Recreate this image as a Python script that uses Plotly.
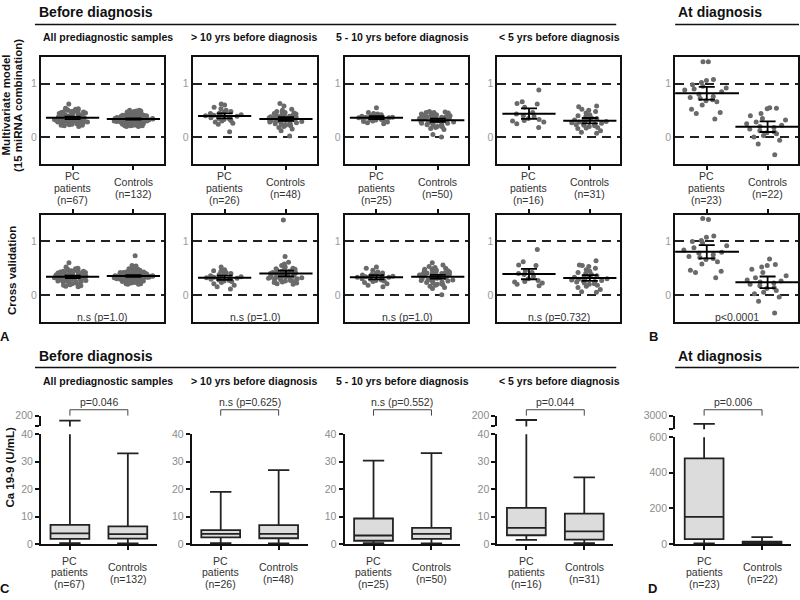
import math
import plotly.graph_objects as go

# ---------------- data ----------------
panel_titles = ["All prediagnostic samples", "> 10 yrs before diagnosis",
                "5 - 10 yrs before diagnosis", "< 5 yrs before diagnosis"]
n_pc = [67, 26, 25, 16, 23]
n_ct = [132, 48, 50, 31, 22]
pvals_cv = ["n.s (p=1.0)", "n.s (p=1.0)", "n.s (p=1.0)", "n.s (p=0.732)", "p<0.0001"]
pvals_ca = ["p=0.046", "n.s (p=0.625)", "n.s (p=0.552)", "p=0.044", "p=0.006"]

# Multivariate model (15 miRNA combination)
mv_all_pc = [0.62, 0.54, 0.53, 0.52, 0.51, 0.50, 0.50, 0.49, 0.48, 0.47,
             0.47, 0.46, 0.45, 0.45, 0.44, 0.44, 0.43, 0.42, 0.42, 0.41,
             0.40, 0.40, 0.39, 0.39, 0.38, 0.38, 0.37, 0.37, 0.36, 0.36,
             0.36, 0.35, 0.35, 0.35, 0.34, 0.34, 0.34, 0.33, 0.33, 0.33,
             0.32, 0.32, 0.32, 0.31, 0.31, 0.31, 0.30, 0.30, 0.30, 0.29,
             0.29, 0.28, 0.28, 0.28, 0.27, 0.27, 0.26, 0.26, 0.25, 0.25,
             0.24, 0.24, 0.23, 0.22, 0.22, 0.21, 0.20]
mv_all_ct = [0.50, 0.50, 0.49, 0.49, 0.48, 0.48, 0.47, 0.47, 0.46, 0.46,
             0.45, 0.45, 0.45, 0.44, 0.44, 0.44, 0.43, 0.43, 0.43, 0.42,
             0.42, 0.42, 0.41, 0.41, 0.41, 0.40, 0.40, 0.40, 0.39, 0.39,
             0.39, 0.39, 0.38, 0.38, 0.38, 0.38, 0.37, 0.37, 0.37, 0.37,
             0.36, 0.36, 0.36, 0.36, 0.36, 0.35, 0.35, 0.35, 0.35, 0.35,
             0.34, 0.34, 0.34, 0.34, 0.34, 0.34, 0.33, 0.33, 0.33, 0.33,
             0.33, 0.33, 0.32, 0.32, 0.32, 0.32, 0.32, 0.32, 0.31, 0.31,
             0.31, 0.31, 0.31, 0.31, 0.30, 0.30, 0.30, 0.30, 0.30, 0.30,
             0.29, 0.29, 0.29, 0.29, 0.29, 0.28, 0.28, 0.28, 0.28, 0.28,
             0.27, 0.27, 0.27, 0.27, 0.26, 0.26, 0.26, 0.26, 0.25, 0.25,
             0.25, 0.25, 0.24, 0.24, 0.24, 0.23, 0.23, 0.23, 0.22, 0.22,
             0.22, 0.21, 0.21, 0.21, 0.20, 0.20, 0.35, 0.36, 0.34, 0.33,
             0.37, 0.32, 0.38, 0.31, 0.35, 0.34, 0.36, 0.33, 0.39, 0.30,
             0.40, 0.29]
mv_10_pc = [0.62, 0.60, 0.56, 0.53, 0.50, 0.48, 0.47, 0.45, 0.44, 0.43,
            0.42, 0.41, 0.40, 0.39, 0.38, 0.37, 0.36, 0.35, 0.34, 0.33,
            0.31, 0.30, 0.28, 0.26, 0.24, 0.10]
mv_10_ct = [0.63, 0.58, 0.52, 0.50, 0.48, 0.47, 0.46, 0.45, 0.44, 0.43,
            0.42, 0.41, 0.40, 0.40, 0.39, 0.38, 0.38, 0.37, 0.36, 0.36,
            0.35, 0.35, 0.34, 0.34, 0.33, 0.33, 0.32, 0.32, 0.31, 0.31,
            0.30, 0.30, 0.29, 0.29, 0.28, 0.27, 0.27, 0.26, 0.25, 0.24,
            0.23, 0.22, 0.21, 0.20, 0.18, 0.15, 0.12, 0.02]
mv_510_pc = [0.55, 0.46, 0.44, 0.43, 0.42, 0.41, 0.40, 0.39, 0.38, 0.37,
             0.37, 0.36, 0.36, 0.35, 0.35, 0.34, 0.33, 0.33, 0.32, 0.31,
             0.30, 0.29, 0.28, 0.27, 0.25]
mv_510_ct = [0.48, 0.47, 0.46, 0.46, 0.45, 0.44, 0.43, 0.42, 0.42, 0.41,
             0.40, 0.40, 0.39, 0.38, 0.38, 0.37, 0.37, 0.36, 0.36, 0.35,
             0.35, 0.34, 0.34, 0.33, 0.33, 0.32, 0.32, 0.31, 0.31, 0.30,
             0.30, 0.29, 0.29, 0.28, 0.28, 0.27, 0.26, 0.26, 0.25, 0.24,
             0.23, 0.22, 0.21, 0.20, 0.19, 0.18, 0.16, 0.14, 0.05, 0.00]
mv_5_pc = [0.88, 0.66, 0.63, 0.62, 0.56, 0.46, 0.43, 0.40, 0.38, 0.35,
           0.33, 0.31, 0.30, 0.28, 0.25, 0.18]
mv_5_ct = [0.58, 0.57, 0.52, 0.50, 0.48, 0.45, 0.42, 0.40, 0.38, 0.36,
           0.35, 0.34, 0.33, 0.32, 0.30, 0.29, 0.28, 0.27, 0.26, 0.25,
           0.24, 0.23, 0.22, 0.21, 0.20, 0.18, 0.17, 0.16, 0.12, 0.09, 0.07]
mv_at_pc = [1.41, 1.41, 1.08, 1.06, 1.02, 0.98, 0.95, 0.92, 0.90, 0.88,
            0.85, 0.80, 0.76, 0.74, 0.72, 0.70, 0.68, 0.66, 0.60, 0.52,
            0.46, 0.44, 0.34]
mv_at_ct = [0.55, 0.54, 0.53, 0.44, 0.40, 0.35, 0.32, 0.28, 0.25, 0.22,
            0.20, 0.18, 0.15, 0.12, 0.10, 0.08, 0.06, 0.03, 0.00, -0.06,
            -0.13, -0.33]

# Cross validation
cv_all_pc = [0.60, 0.52, 0.50, 0.49, 0.48, 0.47, 0.46, 0.45, 0.45, 0.44,
             0.44, 0.43, 0.42, 0.42, 0.41, 0.41, 0.40, 0.40, 0.39, 0.39,
             0.38, 0.38, 0.37, 0.37, 0.37, 0.36, 0.36, 0.36, 0.35, 0.35,
             0.35, 0.34, 0.34, 0.34, 0.33, 0.33, 0.33, 0.32, 0.32, 0.32,
             0.31, 0.31, 0.31, 0.30, 0.30, 0.30, 0.29, 0.29, 0.28, 0.28,
             0.27, 0.27, 0.26, 0.26, 0.25, 0.25, 0.24, 0.24, 0.23, 0.22,
             0.21, 0.20, 0.19, 0.18, 0.17, 0.16, 0.15]
cv_all_ct = [0.73, 0.55, 0.54, 0.53, 0.52, 0.51, 0.50, 0.49, 0.48, 0.48,
             0.47, 0.47, 0.46, 0.46, 0.45, 0.45, 0.44, 0.44, 0.44, 0.43,
             0.43, 0.43, 0.42, 0.42, 0.42, 0.41, 0.41, 0.41, 0.40, 0.40,
             0.40, 0.39, 0.39, 0.39, 0.38, 0.38, 0.38, 0.38, 0.37, 0.37,
             0.37, 0.37, 0.36, 0.36, 0.36, 0.36, 0.35, 0.35, 0.35, 0.35,
             0.35, 0.34, 0.34, 0.34, 0.34, 0.34, 0.33, 0.33, 0.33, 0.33,
             0.33, 0.32, 0.32, 0.32, 0.32, 0.32, 0.31, 0.31, 0.31, 0.31,
             0.31, 0.30, 0.30, 0.30, 0.30, 0.30, 0.29, 0.29, 0.29, 0.29,
             0.28, 0.28, 0.28, 0.28, 0.27, 0.27, 0.27, 0.27, 0.26, 0.26,
             0.26, 0.25, 0.25, 0.25, 0.24, 0.24, 0.24, 0.23, 0.23, 0.22,
             0.22, 0.21, 0.21, 0.20, 0.20, 0.36, 0.37, 0.35, 0.34, 0.33,
             0.38, 0.32, 0.39, 0.31, 0.40, 0.36, 0.35, 0.34, 0.37, 0.33,
             0.41, 0.30, 0.42, 0.29, 0.36, 0.35, 0.38, 0.34, 0.43, 0.28,
             0.39, 0.32]
cv_10_pc = [0.52, 0.47, 0.45, 0.44, 0.42, 0.40, 0.39, 0.38, 0.36, 0.35,
            0.34, 0.33, 0.32, 0.31, 0.30, 0.30, 0.29, 0.28, 0.27, 0.26,
            0.25, 0.23, 0.21, 0.18, 0.15, 0.11]
cv_10_ct = [1.40, 0.72, 0.61, 0.58, 0.55, 0.53, 0.52, 0.50, 0.49, 0.48,
            0.47, 0.46, 0.45, 0.44, 0.44, 0.43, 0.42, 0.41, 0.40, 0.40,
            0.39, 0.38, 0.38, 0.37, 0.36, 0.36, 0.35, 0.35, 0.34, 0.34,
            0.33, 0.33, 0.32, 0.32, 0.31, 0.30, 0.30, 0.29, 0.28, 0.28,
            0.27, 0.26, 0.25, 0.24, 0.23, 0.22, 0.21, 0.20]
cv_510_pc = [0.52, 0.50, 0.46, 0.43, 0.41, 0.40, 0.38, 0.37, 0.36, 0.35,
             0.34, 0.33, 0.33, 0.32, 0.31, 0.30, 0.29, 0.28, 0.27, 0.26,
             0.25, 0.23, 0.21, 0.18, 0.15]
cv_510_ct = [0.60, 0.56, 0.53, 0.51, 0.50, 0.49, 0.48, 0.47, 0.46, 0.45,
             0.44, 0.43, 0.42, 0.42, 0.41, 0.40, 0.40, 0.39, 0.38, 0.38,
             0.37, 0.36, 0.36, 0.35, 0.35, 0.34, 0.34, 0.33, 0.32, 0.32,
             0.31, 0.30, 0.30, 0.29, 0.28, 0.28, 0.27, 0.26, 0.25, 0.24,
             0.23, 0.22, 0.21, 0.20, 0.19, 0.18, 0.16, 0.14, 0.12, 0.00]
cv_5_pc = [0.85, 0.62, 0.56, 0.55, 0.45, 0.42, 0.40, 0.38, 0.35, 0.30,
           0.27, 0.25, 0.24, 0.22, 0.20, 0.17]
cv_5_ct = [0.64, 0.56, 0.55, 0.53, 0.50, 0.47, 0.44, 0.42, 0.40, 0.38,
           0.36, 0.35, 0.34, 0.33, 0.31, 0.30, 0.29, 0.28, 0.27, 0.26,
           0.25, 0.24, 0.22, 0.21, 0.20, 0.18, 0.16, 0.14, 0.10, 0.06, 0.05]
cv_at_pc = [1.43, 1.41, 1.10, 1.08, 1.02, 1.00, 0.97, 0.92, 0.88, 0.84,
            0.80, 0.78, 0.75, 0.72, 0.70, 0.68, 0.66, 0.62, 0.58, 0.46,
            0.44, 0.42, 0.32]
cv_at_ct = [0.67, 0.57, 0.55, 0.52, 0.48, 0.42, 0.36, 0.32, 0.28, 0.26,
            0.24, 0.22, 0.20, 0.17, 0.14, 0.12, 0.08, 0.05, 0.02, -0.04,
            -0.12, -0.34]

# Ca 19-9 (U/mL) box statistics: all, >10, 5-10, <5, at diagnosis
ca_pc_low = [0.3, 0.3, 0.3, 1.5, 4]
ca_pc_q1 = [1.9, 2.4, 1.2, 3.2, 28]
ca_pc_med = [3.9, 3.7, 3.1, 5.9, 152]
ca_pc_q3 = [7.0, 5.1, 9.3, 13.2, 481]
ca_pc_high = [127, 19.0, 30.4, 135, 1800]
ca_ct_low = [0.2, 0.2, 0.2, 0.3, 0]
ca_ct_q1 = [2.0, 2.1, 1.9, 1.6, 2]
ca_ct_med = [3.6, 3.7, 3.7, 4.6, 7]
ca_ct_q3 = [6.4, 6.9, 5.9, 11.1, 14]
ca_ct_high = [33.0, 26.9, 33.1, 24.3, 39]
ca_low_ticks = [0, 10, 20, 30, 40]
ca_low_ticks_d = [0, 200, 400, 600]
ca_break = [40, 1000]      # lower end of the upper (broken) axis segment
ca_top = [200, 3000]

# ---------------- layout helpers ----------------
W, H = 800, 600
FONT = "Liberation Sans, Arial, Helvetica, sans-serif"
LINE = "#111111"


def px(x):
    return x / W


def py(y):
    return 1 - y / H


mv_sets = [(mv_all_pc, mv_all_ct), (mv_10_pc, mv_10_ct), (mv_510_pc, mv_510_ct),
           (mv_5_pc, mv_5_ct), (mv_at_pc, mv_at_ct)]
cv_sets = [(cv_all_pc, cv_all_ct), (cv_10_pc, cv_10_ct), (cv_510_pc, cv_510_ct),
           (cv_5_pc, cv_5_ct), (cv_at_pc, cv_at_ct)]

ab_x = [(41, 164), (193, 317), (345, 469), (498, 621), (676, 799)]
ab_rows = [(52, 161), (213, 322)]
c_x = [(41, 157), (192, 308), (345, 461), (498, 614), (676, 792)]

fig = go.Figure()
layout = {}
annotations = []
shapes = []


def ann(text, x, y, xref="paper", yref="paper", size=10.5, bold=False,
        color="#222222", xanchor="center", yanchor="middle", angle=0):
    if bold:
        text = f"<b>{text}</b>"
    annotations.append(dict(text=text, x=x, y=y, xref=xref, yref=yref,
                            showarrow=False, textangle=angle,
                            font=dict(family=FONT, size=size, color=color),
                            xanchor=xanchor, yanchor=yanchor))


def mean_ci(vals):
    n = len(vals)
    m = sum(vals) / n
    sd = math.sqrt(sum((v - m) ** 2 for v in vals) / (n - 1))
    t = 1.96 + 2.4 / (n - 1)
    return m, t * sd / math.sqrt(n)


# ---------------- panels A / B ----------------
for r, sets in enumerate([mv_sets, cv_sets]):
    y0, y1 = ab_rows[r]
    for i in range(5):
        k = r * 5 + i + 1
        x0, x1 = ab_x[i]
        layout[f"xaxis{k}"] = dict(
            domain=[px(x0), px(x1)], anchor=f"y{k}", range=[-0.52, 1.5],
            tickvals=[0, 1], showticklabels=False, ticks="outside", ticklen=4,
            tickwidth=2, tickcolor=LINE, showline=True, mirror=True,
            linecolor=LINE, linewidth=2, showgrid=False, zeroline=False,
            side="bottom" if r == 0 else "top", fixedrange=True)
        layout[f"yaxis{k}"] = dict(
            domain=[py(y1), py(y0)], anchor=f"x{k}", range=[-0.5, 1.5],
            tickvals=[0, 1], ticktext=["0", "1"], ticks="", showline=True,
            mirror=True, linecolor=LINE, linewidth=2, showgrid=True,
            gridcolor="#222222", gridwidth=2, griddash="9px,6px",
            zeroline=False, tickfont=dict(family=FONT, size=10.5, color="#9a9a9a"),
            fixedrange=True)
        wide = i == 4
        for c, vals in enumerate(sets[i]):
            fig.add_trace(go.Box(
                x=[c] * len(vals), y=vals, boxpoints="all", jitter=1, pointpos=0,
                width=0.8 if wide else 0.64, fillcolor="rgba(0,0,0,0)",
                line=dict(width=0, color="rgba(0,0,0,0)"),
                marker=dict(color="#6a6a6a", size=5, line=dict(width=0)),
                xaxis=f"x{k}", yaxis=f"y{k}", hoverinfo="y", showlegend=False))
            m, ci = mean_ci(vals)
            fig.add_trace(go.Scatter(
                x=[c], y=[m], mode="markers",
                marker=dict(symbol="line-ew", size=46 if wide else 38, color="black",
                            line=dict(width=2, color="black")),
                error_y=dict(type="data", array=[ci], width=8, thickness=1.8,
                             color="black"),
                xaxis=f"x{k}", yaxis=f"y{k}", showlegend=False, hoverinfo="y"))
        if r == 0:
            for j, line in enumerate(["PC", "patients", f"(n={n_pc[i]})"]):
                ann(line, 0, py(173 + 12.5 * j), xref=f"x{k}", color="#333333")
            for j, line in enumerate(["Controls", f"(n={n_ct[i]})"]):
                ann(line, 1, py(179.5 + 12.5 * j), xref=f"x{k}", color="#333333")
        else:
            ann(pvals_cv[i], 0.5, py(317), xref=f"x{k}", color="#333333")

# ---------------- panels C / D (broken y axis) ----------------
for i in range(5):
    kl = 11 + i
    ku = 16 + i
    x0, x1 = c_x[i]
    is_d = i == 4
    low_top_px = 440 if is_d else 437
    up_bot_px = 432 if is_d else 429
    low_ticks = ca_low_ticks_d if is_d else ca_low_ticks
    brk = ca_break[1] if is_d else ca_break[0]
    top_val = ca_top[1] if is_d else ca_top[0]
    layout[f"xaxis{kl}"] = dict(
        domain=[px(x0), px(x1)], anchor=f"y{kl}", range=[-0.5, 1.5],
        tickvals=[0, 1], showticklabels=False, ticks="outside", ticklen=4,
        tickwidth=2, tickcolor=LINE, showline=True, linecolor=LINE, linewidth=2,
        showgrid=False, zeroline=False, fixedrange=True)
    layout[f"yaxis{kl}"] = dict(
        domain=[py(549), py(low_top_px)], anchor=f"x{kl}",
        range=[low_ticks[0], low_ticks[-1]], tickvals=low_ticks,
        ticks="outside", ticklen=4, tickwidth=2, tickcolor=LINE, showline=True,
        linecolor=LINE, linewidth=2, showgrid=False, zeroline=False,
        tickfont=dict(family=FONT, size=10.5, color="#8c8c8c"), fixedrange=True)
    layout[f"yaxis{ku}"] = dict(
        domain=[py(up_bot_px), py(418)], anchor=f"x{kl}",
        range=[brk, top_val], tickvals=[brk, top_val],
        ticktext=["", str(top_val)], ticks="outside", ticklen=4, tickwidth=2,
        tickcolor=LINE, showline=True, linecolor=LINE, linewidth=2,
        showgrid=False, zeroline=False,
        tickfont=dict(family=FONT, size=10.5, color="#8c8c8c"), fixedrange=True)
    groups = [
        (0, ca_pc_low[i], ca_pc_q1[i], ca_pc_med[i], ca_pc_q3[i], ca_pc_high[i]),
        (1, ca_ct_low[i], ca_ct_q1[i], ca_ct_med[i], ca_ct_q3[i], ca_ct_high[i]),
    ]
    for c, lo, q1, med, q3, hi in groups:
        fig.add_trace(go.Box(
            x=[c], q1=[q1], median=[med], q3=[q3], lowerfence=[lo],
            upperfence=[hi], boxpoints=False, width=0.67, whiskerwidth=0.55,
            fillcolor="#dcdcdc", line=dict(color="#222222", width=1.8),
            xaxis=f"x{kl}", yaxis=f"y{kl}", showlegend=False))
        if hi > low_ticks[-1]:
            # the part of the whisker above the axis break
            fig.add_trace(go.Box(
                x=[c], q1=[q1], median=[med], q3=[q3], lowerfence=[lo],
                upperfence=[hi], boxpoints=False, width=0.67, whiskerwidth=0.55,
                fillcolor="rgba(0,0,0,0)", line=dict(color="#222222", width=1.8),
                xaxis=f"x{kl}", yaxis=f"y{ku}", showlegend=False))
    shapes.append(dict(type="path", xref=f"x{kl}", yref="paper",
                       path=f"M 0,{py(418)} L 0,{py(412)} L 1,{py(412)} L 1,{py(418)}",
                       line=dict(color="#444444", width=1)))
    ann(pvals_ca[i], 0.5, py(404), xref=f"x{kl}", color="#333333")
    for j, line in enumerate(["PC", "patients", f"(n={n_pc[i]})"]):
        ann(line, 0, py(566 + 12 * j), xref=f"x{kl}", color="#333333")
    for j, line in enumerate(["Controls", f"(n={n_ct[i]})"]):
        ann(line, 1, py(572 + 13 * j), xref=f"x{kl}", color="#333333")

# ---------------- titles & labels ----------------
sub_x = [107.7, 255, 403.5, 560]
for top_y, line_y, sub_y in [(6, 19, 32), (357, 369, 383)]:
    ann("Before diagnosis", px(37), py(top_y), size=14, bold=True,
        color="#111111", xanchor="left")
    ann("At diagnosis", px(677), py(top_y), size=14, bold=True,
        color="#111111", xanchor="left")
    shapes.append(dict(type="line", xref="paper", yref="paper", x0=px(35),
                       x1=px(617), y0=py(line_y), y1=py(line_y),
                       line=dict(color=LINE, width=1.5)))
    shapes.append(dict(type="line", xref="paper", yref="paper", x0=px(676),
                       x1=1, y0=py(line_y), y1=py(line_y),
                       line=dict(color=LINE, width=1.5)))
    for t, sx in zip(panel_titles, sub_x):
        ann(t, px(sx), py(sub_y), size=10.5, bold=True, color="#111111")

ann("Multivariate model", px(5.5), py(101), size=11.5, bold=True, color="#111111", angle=-90)
ann("(15 miRNA combination)", px(18), py(101), size=11.5, bold=True, color="#111111", angle=-90)
ann("Cross validation", px(11.5), py(270), size=11.5, bold=True, color="#111111", angle=-90)
ann("Ca 19-9 (U/mL)", px(10), py(470), size=11.5, bold=True, color="#111111", angle=-90)

for letter, lx, ly in [("A", 5, 337.5), ("B", 654, 337), ("C", 5, 594), ("D", 653, 594)]:
    ann(letter, px(lx), py(ly), size=13, bold=True, color="#111111")

layout.update(dict(
    width=W, height=H, margin=dict(l=0, r=0, t=0, b=0),
    paper_bgcolor="white", plot_bgcolor="white", showlegend=False,
    boxmode="overlay", annotations=annotations, shapes=shapes,
    font=dict(family=FONT, size=10.5, color="#222222"),
))
fig.update_layout(layout)
fig.write_html(
    "out.html",
    config={"displayModeBar": False, "staticPlot": True},
    post_script=(
        "document.documentElement.style.margin='0px';"
        "document.body.style.margin='0px';"
        "document.documentElement.style.overflow='hidden';"
        "document.body.style.overflow='hidden';"
        "document.body.style.height='600px';"
        "var gd=document.getElementsByClassName('plotly-graph-div')[0];"
        "gd.style.position='absolute';gd.style.left='0px';gd.style.top='0px';"
    ),
)
